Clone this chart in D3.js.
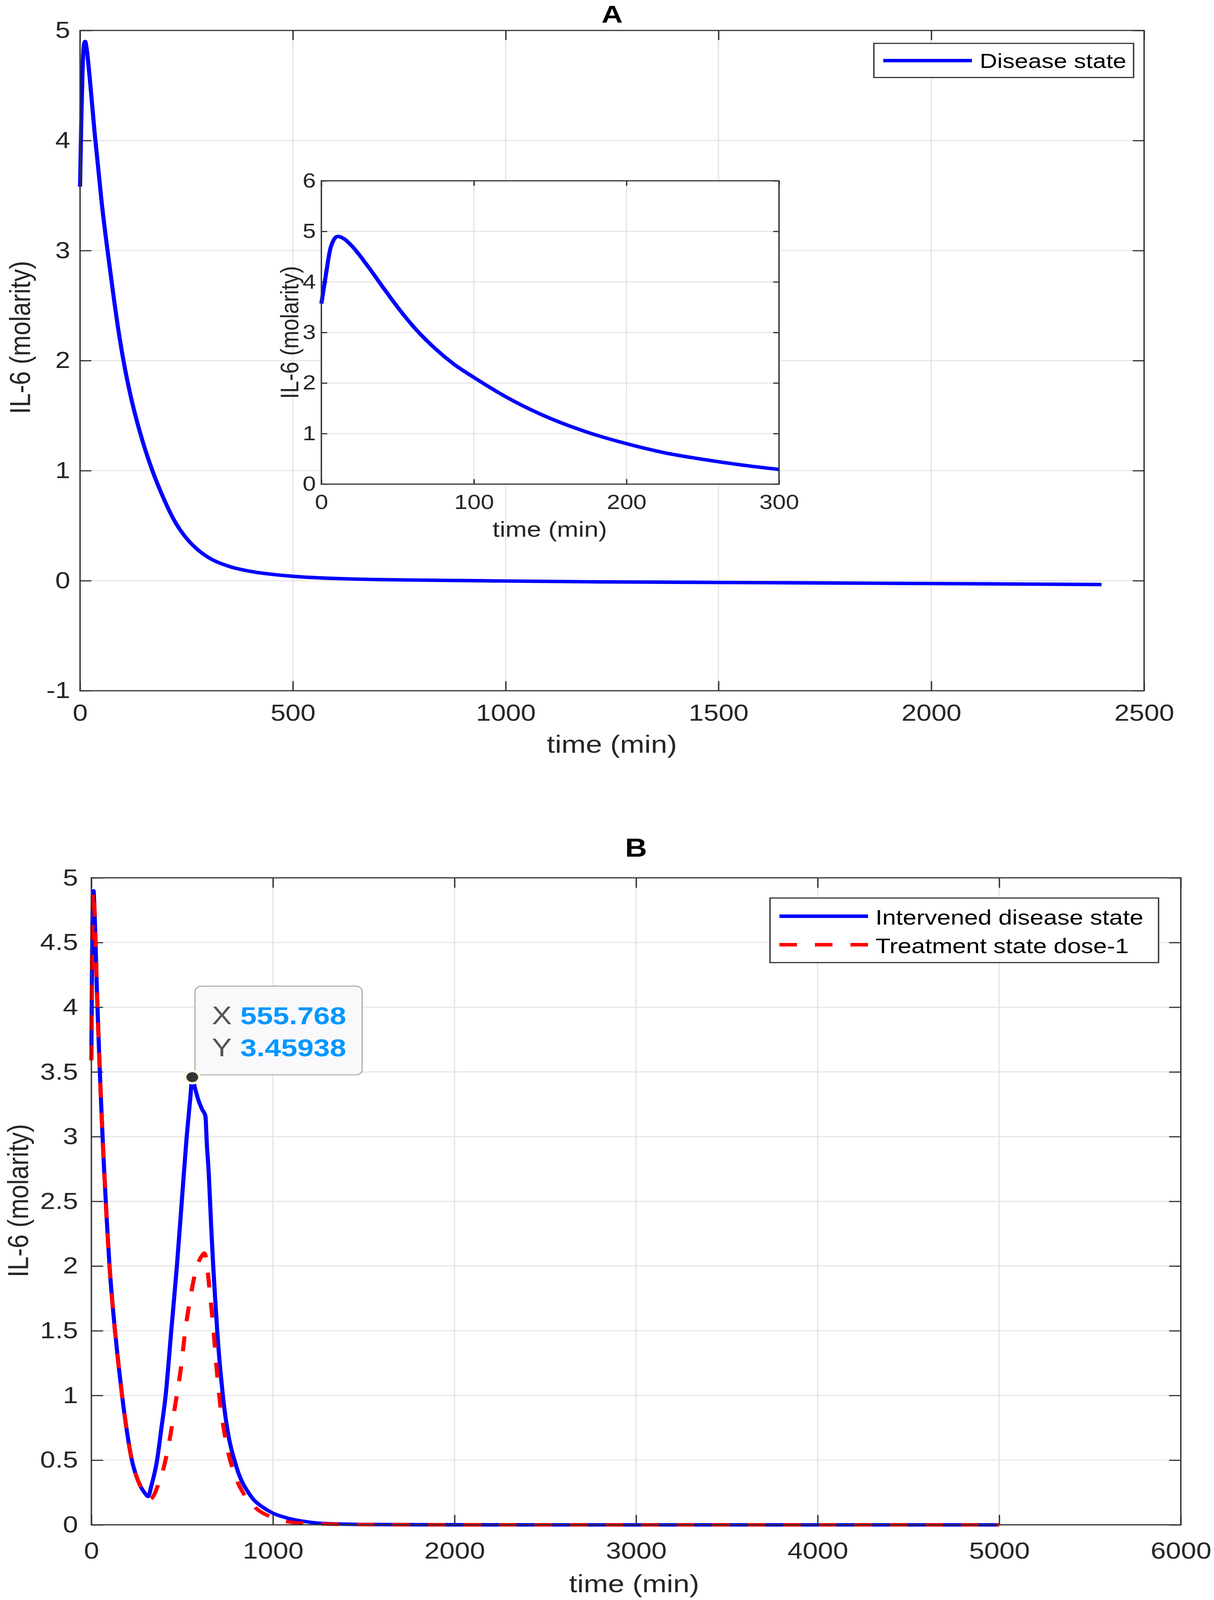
<!DOCTYPE html>
<html><head><meta charset="utf-8">
<script src="https://cdn.jsdelivr.net/npm/d3@7"></script>
<style>html,body{margin:0;padding:0;background:#fff;overflow:hidden}svg{display:block}</style>
</head><body>
<script>
// ---------------- DATA ----------------
// Panel A main curve (Disease state)
const timeA = [0,3,6,9,12,16,22,34,51,69,90,102,120,140,170,195,221,247,274,300,350,400,450,500,600,700,800,1000,1200,1600,2000,2400];
const il6A  = [3.58,4.2,4.65,4.87,4.9,4.82,4.6,4.08,3.43,2.87,2.28,2.0,1.66,1.36,1.0,0.76,0.55,0.4,0.29,0.215,0.13,0.085,0.058,0.04,0.02,0.01,0.005,-0.003,-0.01,-0.018,-0.026,-0.035];
// Panel A inset curve
const timeInset = [0,2.7,6.2,10.7,15,20,30,40,50,62,75,87,100,125,150,175,200,225,250,275,300];
const il6Inset  = [3.57,4.09,4.69,4.9,4.85,4.71,4.33,3.91,3.5,3.06,2.67,2.37,2.11,1.66,1.3,1.02,0.8,0.62,0.49,0.38,0.29];
// Panel B: Intervened disease state
const timeB1 = [0,3,6,9,12,16,22,30,40,50,60,70,85,100,115,130,150,169,195,223,247,270,292,313,330,362,385,409,440,471,498,525,545,555.768,570,590,610,628,636,646,660,671,683,695,710,724,740,757,772,788,810,831,860,890,940,1000,1060,1115,1180,1238,1350,1500,1800,2500,3500,5000];
const intervenedB = [3.59,4.25,4.7,4.88,4.9,4.8,4.55,4.15,3.75,3.38,3.05,2.75,2.35,2.0,1.73,1.5,1.23,1.0,0.73,0.5,0.38,0.3,0.25,0.22,0.3,0.5,0.74,1.0,1.5,2.0,2.5,3.0,3.3,3.45938,3.38,3.28,3.21,3.16,2.94,2.73,2.3,2.0,1.72,1.46,1.2,1.0,0.82,0.675,0.58,0.5,0.4,0.33,0.26,0.2,0.14,0.09,0.06,0.04,0.025,0.015,0.007,0.003,0.001,0,0,0];
// Panel B: Treatment state dose-1
const timeB2 = [0,3,6,9,12,16,22,30,40,50,60,70,85,100,115,130,150,169,195,223,247,270,292,313,325,345,370,390,430,461,492,517,547,578,609,622,634,645,652,671,689,708,733,757,794,843,905,991,1053,1200,1500,2500,5000];
const treatmentB = [3.59,4.25,4.7,4.88,4.9,4.8,4.55,4.15,3.75,3.38,3.05,2.75,2.35,2.0,1.73,1.5,1.23,1.0,0.73,0.5,0.38,0.3,0.25,0.22,0.2,0.23,0.32,0.4,0.65,0.92,1.2,1.5,1.77,1.98,2.08,2.1,2.04,1.9,1.8,1.53,1.22,0.95,0.71,0.54,0.37,0.23,0.13,0.06,0.03,0.01,0.002,0,0];
// Data tip
const tipX = 555.768, tipY = 3.45938;
const tipLabels = ["555.768","3.45938"];

// Ticks
const xTicksA = [0,500,1000,1500,2000,2500];
const xTickLabelsA = ["0","500","1000","1500","2000","2500"];
const yTicksA = [-1,0,1,2,3,4,5];
const yTickLabelsA = ["-1","0","1","2","3","4","5"];
const xTicksInset = [0,100,200,300];
const xTickLabelsInset = ["0","100","200","300"];
const yTicksInset = [0,1,2,3,4,5,6];
const yTickLabelsInset = ["0","1","2","3","4","5","6"];
const xTicksB = [0,1000,2000,3000,4000,5000,6000];
const xTickLabelsB = ["0","1000","2000","3000","4000","5000","6000"];
const yTicksB = [0,0.5,1,1.5,2,2.5,3,3.5,4,4.5,5];
const yTickLabelsB = ["0","0.5","1","1.5","2","2.5","3","3.5","4","4.5","5"];

// ---------------- STYLE ----------------
const FONT = "'Liberation Sans', Arial, Helvetica, sans-serif";
const AXC = "#333333", GRID = "#e3e3e3", TXT = "#262626";
const BLUE = "#0000ff", RED = "#ff0000";
const LW = 10.5;

const W = 3109, H = 4832;
const svg = d3.select("body").append("svg")
  .attr("viewBox", `0 0 ${W} ${H}`).attr("preserveAspectRatio", "none")
  .style("width", "100vw").style("height", "100vh").style("font-family", FONT);
svg.append("rect").attr("width", W).attr("height", H).attr("fill", "#fff");

function frame(g, x, y, o) {
  const [x0, x1] = x.range(), [y0, y1] = y.range();
  g.append("rect").attr("x", x0).attr("y", y1).attr("width", x1 - x0).attr("height", y0 - y1).attr("fill", "#fff");
  g.append("g").selectAll("line").data(o.xTicks).join("line")
    .attr("x1", d => x(d)).attr("x2", d => x(d)).attr("y1", y0).attr("y2", y1)
    .attr("stroke", GRID).attr("stroke-width", 3);
  g.append("g").selectAll("line").data(o.yTicks).join("line")
    .attr("y1", d => y(d)).attr("y2", d => y(d)).attr("x1", x0).attr("x2", x1)
    .attr("stroke", GRID).attr("stroke-width", 3);
  const style = sel => {
    sel.select(".domain").remove();
    sel.selectAll("line").attr("stroke", AXC).attr("stroke-width", 3.5);
    sel.selectAll("text").attr("fill", TXT).style("font-family", FONT).attr("font-size", o.fs);
  };
  g.append("g").attr("transform", `translate(0,${y0})`)
    .call(d3.axisBottom(x).tickValues(o.xTicks).tickFormat((d, i) => o.xLabels[i]).tickSizeInner(-o.tl).tickSizeOuter(0).tickPadding(o.xPad))
    .call(style);
  g.append("g").attr("transform", `translate(0,${y1})`)
    .call(d3.axisTop(x).tickValues(o.xTicks).tickFormat("").tickSizeInner(-o.tl).tickSizeOuter(0)).call(style);
  g.append("g").attr("transform", `translate(${x0},0)`)
    .call(d3.axisLeft(y).tickValues(o.yTicks).tickFormat((d, i) => o.yLabels[i]).tickSizeInner(-o.tl).tickSizeOuter(0).tickPadding(o.yPad))
    .call(style);
  g.append("g").attr("transform", `translate(${x1},0)`)
    .call(d3.axisRight(y).tickValues(o.yTicks).tickFormat("").tickSizeInner(-o.tl).tickSizeOuter(0)).call(style);
}
function border(g, x, y) {
  const [x0, x1] = x.range(), [y0, y1] = y.range();
  g.append("rect").attr("x", x0).attr("y", y1).attr("width", x1 - x0).attr("height", y0 - y1)
    .attr("fill", "none").attr("stroke", AXC).attr("stroke-width", 3.5);
}
function curve(g, x, y, ts, vs, color, dash) {
  const pts = ts.map((t, i) => [t, vs[i]]);
  const p = g.append("path").datum(pts)
    .attr("d", d3.line().x(d => x(d[0])).y(d => y(d[1])).curve(d3.curveMonotoneX))
    .attr("fill", "none").attr("stroke", color).attr("stroke-width", LW)
    .attr("stroke-linejoin", "round");
  if (dash) p.attr("stroke-dasharray", dash);
  return p;
}
function yLabel(g, txt, cx, cy, fs) {
  g.append("text").attr("transform", `translate(${cx},${cy}) rotate(-90)`)
    .attr("text-anchor", "middle").attr("font-size", fs).attr("fill", TXT).text(txt);
}
function xLabel(g, txt, cx, by, fs) {
  g.append("text").attr("x", cx).attr("y", by).attr("text-anchor", "middle")
    .attr("font-size", fs).attr("fill", TXT).text(txt);
}

// ---------------- PANEL A ----------------
const gA = svg.append("g");
const xA = d3.scaleLinear([0, 2500], [205, 2930]);
const yA = d3.scaleLinear([-1, 5], [2086, 92]);
frame(gA, xA, yA, {xTicks: xTicksA, xLabels: xTickLabelsA, yTicks: yTicksA, yLabels: yTickLabelsA, tl: 29, fs: 69, xPad: 42, yPad: 25});
curve(gA, xA, yA, timeA, il6A, BLUE);
border(gA, xA, yA);
gA.append("text").attr("x", (xA.range()[0] + xA.range()[1]) / 2).attr("y", 68).attr("text-anchor", "middle")
  .attr("font-size", 75).attr("font-weight", "bold").attr("fill", "#000").text("A");
xLabel(gA, "time (min)", 1567, 2273, 75);
yLabel(gA, "IL-6 (molarity)", 77, 1019, 75);
const lgA = gA.append("g");
lgA.append("rect").attr("x", 2238).attr("y", 131).attr("width", 665).attr("height", 103)
  .attr("fill", "#fff").attr("stroke", AXC).attr("stroke-width", 3.5);
lgA.append("line").attr("x1", 2262).attr("x2", 2489).attr("y1", 183).attr("y2", 183)
  .attr("stroke", BLUE).attr("stroke-width", LW);
lgA.append("text").attr("x", 2509).attr("y", 205).attr("font-size", 62).attr("fill", "#000").text("Disease state");

// inset
const gI = svg.append("g");
const xI = d3.scaleLinear([0, 300], [823, 1995]);
const yI = d3.scaleLinear([0, 6], [1462, 546]);
frame(gI, xI, yI, {xTicks: xTicksInset, xLabels: xTickLabelsInset, yTicks: yTicksInset, yLabels: yTickLabelsInset, tl: 15, fs: 61, xPad: 32, yPad: 14});
curve(gI, xI, yI, timeInset, il6Inset, BLUE);
border(gI, xI, yI);
xLabel(gI, "time (min)", 1408, 1621, 66);
yLabel(gI, "IL-6 (molarity)", 764, 1004, 65);

// ---------------- PANEL B ----------------
const gB = svg.append("g");
const xB = d3.scaleLinear([0, 6000], [234, 3024]);
const yB = d3.scaleLinear([0, 5], [4605, 2651]);
frame(gB, xB, yB, {xTicks: xTicksB, xLabels: xTickLabelsB, yTicks: yTicksB, yLabels: yTickLabelsB, tl: 30, fs: 70, xPad: 52, yPad: 34});
curve(gB, xB, yB, timeB1, intervenedB, BLUE);
curve(gB, xB, yB, timeB2, treatmentB, RED, "45,46");
border(gB, xB, yB);
gB.append("text").attr("x", (xB.range()[0] + xB.range()[1]) / 2).attr("y", 2587).attr("text-anchor", "middle")
  .attr("font-size", 78).attr("font-weight", "bold").attr("fill", "#000").text("B");
xLabel(gB, "time (min)", 1624, 4808, 75);
yLabel(gB, "IL-6 (molarity)", 72, 3626, 75);
const lgB = gB.append("g");
lgB.append("rect").attr("x", 1972).attr("y", 2712).attr("width", 995).attr("height", 195)
  .attr("fill", "#fff").attr("stroke", AXC).attr("stroke-width", 3.5);
lgB.append("line").attr("x1", 1996).attr("x2", 2223).attr("y1", 2767).attr("y2", 2767)
  .attr("stroke", BLUE).attr("stroke-width", LW);
lgB.append("line").attr("x1", 1996).attr("x2", 2223).attr("y1", 2853).attr("y2", 2853)
  .attr("stroke", RED).attr("stroke-width", LW).attr("stroke-dasharray", "45,46");
lgB.append("text").attr("x", 2242).attr("y", 2792).attr("font-size", 63).attr("fill", "#000").text("Intervened disease state");
lgB.append("text").attr("x", 2242).attr("y", 2878).attr("font-size", 63).attr("fill", "#000").text("Treatment state dose-1");

// data tip
const px = xB(tipX), py = yB(tipY);
const bx = px + 7, bBottom = py - 7, bw = 428, bh = 268, bTop = bBottom - bh;
const tip = gB.append("g");
tip.append("rect").attr("x", bx).attr("y", bTop).attr("width", bw).attr("height", bh).attr("rx", 16)
  .attr("fill", "#f9f9fc").attr("stroke", "#b4b4b4").attr("stroke-width", 3.5);
tip.append("text").attr("x", bx + 43).attr("y", bTop + 115).attr("font-size", 77).attr("fill", "#555").text("X");
tip.append("text").attr("x", bx + 43).attr("y", bTop + 212).attr("font-size", 77).attr("fill", "#555").text("Y");
tip.append("text").attr("x", bx + 116).attr("y", bTop + 115).attr("font-size", 75).attr("font-weight", "bold").attr("fill", "#0096ff").text(tipLabels[0]);
tip.append("text").attr("x", bx + 116).attr("y", bTop + 212).attr("font-size", 75).attr("font-weight", "bold").attr("fill", "#0096ff").text(tipLabels[1]);
tip.append("circle").attr("cx", px).attr("cy", py).attr("r", 22).attr("fill", "#fffde4");
tip.append("circle").attr("cx", px).attr("cy", py).attr("r", 15).attr("fill", "#333");
</script>
</body></html>
